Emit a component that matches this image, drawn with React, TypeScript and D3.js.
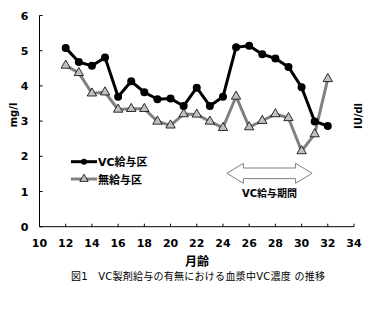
import React from "react";
import * as d3 from "d3";

const months = [12, 13, 14, 15, 16, 17, 18, 19, 20, 21, 22, 23, 24, 25, 26, 27, 28, 29, 30, 31, 32];
const vcValues = [5.08, 4.68, 4.57, 4.81, 3.69, 4.13, 3.82, 3.62, 3.64, 3.43, 3.95, 3.43, 3.69, 5.10, 5.14, 4.90, 4.78, 4.54, 3.96, 2.99, 2.86];
const noVcValues = [4.58, 4.37, 3.79, 3.82, 3.33, 3.35, 3.35, 2.99, 2.88, 3.20, 3.19, 2.99, 2.81, 3.70, 2.83, 3.01, 3.20, 3.09, 2.15, 2.63, 4.20];
const xTicks = [10, 12, 14, 16, 18, 20, 22, 24, 26, 28, 30, 32, 34];
const yTicks = [0, 1, 2, 3, 4, 5, 6];
const seriesNames = ["VC給与区", "無給与区"];
const periodStart = 24.3;
const periodEnd = 30.8;

const FONT = "'DejaVu Sans', 'Noto Sans CJK JP', sans-serif";

export default function App() {
  const x = d3.scaleLinear().domain([10, 34]).range([39.5, 354]);
  const y = d3.scaleLinear().domain([0, 6]).range([226.7, 15.5]);
  const line = d3.line<number>().x((_, i) => x(months[i])).y((v) => y(v));
  const tri = d3.symbol().type(d3.symbolTriangle).size(38)();

  const ax1 = x(periodStart);
  const ax2 = x(periodEnd);
  const ay = 173.3;
  const hw = 16.5;
  const arrowPath = [
    [ax1, ay], [ax1 + hw, ay - 10], [ax1 + hw, ay - 5.3], [ax2 - hw, ay - 5.3], [ax2 - hw, ay - 10],
    [ax2, ay], [ax2 - hw, ay + 10], [ax2 - hw, ay + 5.3], [ax1 + hw, ay + 5.3], [ax1 + hw, ay + 10],
  ];

  return (
    <svg width={372} height={322} style={{ position: "absolute", left: 0, top: 0, background: "#fff" }}>
      {/* axes */}
      <line x1={x(10)} x2={x(34)} y1={y(0)} y2={y(0)} stroke="#000" strokeWidth={1} />
      <line x1={x(10)} x2={x(10)} y1={y(0)} y2={y(6)} stroke="#000" strokeWidth={1} />
      {xTicks.map((t) => (
        <g key={"x" + t}>
          <line x1={x(t)} x2={x(t)} y1={y(0)} y2={y(0) - 3} stroke="#000" />
          <text x={x(t)} y={247} textAnchor="middle" fontFamily={FONT} fontWeight="bold" fontSize={11}>{t}</text>
        </g>
      ))}
      {yTicks.map((t) => (
        <g key={"y" + t}>
          <line x1={x(10)} x2={x(10) + 3} y1={y(t)} y2={y(t)} stroke="#000" />
          <text x={28.5} y={y(t) + 4} textAnchor="end" fontFamily={FONT} fontWeight="bold" fontSize={11}>{t}</text>
        </g>
      ))}
      <text transform="translate(17,115) rotate(-90)" textAnchor="middle" fontFamily={FONT} fontWeight="bold" fontSize={10}>mg/l</text>
      <text transform="translate(362,116) rotate(-90)" textAnchor="middle" fontFamily={FONT} fontWeight="bold" fontSize={10}>IU/dl</text>
      <text x={197} y={266} textAnchor="middle" fontFamily={FONT} fontWeight="bold" fontSize={12}>月齢</text>
      <text x={71} y={280} textLength={254} lengthAdjust="spacing" fontFamily={FONT} fontSize={10}>図1　VC製剤給与の有無における血漿中VC濃度 の推移</text>

      {/* period arrow */}
      <path d={"M" + arrowPath.map((p) => p.join(",")).join("L") + "Z"} fill="#fff" stroke="#808080" strokeWidth={1} />
      <text x={(ax1 + ax2) / 2} y={197} textAnchor="middle" fontFamily={FONT} fontWeight="bold" fontSize={10}>VC給与期間</text>

      {/* series */}
      <path d={line(noVcValues) || ""} fill="none" stroke="#808080" strokeWidth={3} strokeLinejoin="round" />
      {noVcValues.map((v, i) => (
        <path key={"t" + i} d={tri} transform={`translate(${x(months[i])},${y(v)})`} fill="#c0c0c0" stroke="#000" strokeWidth={0.8} />
      ))}
      <path d={line(vcValues) || ""} fill="none" stroke="#000" strokeWidth={3} strokeLinejoin="round" />
      {vcValues.map((v, i) => (
        <circle key={"c" + i} cx={x(months[i])} cy={y(v)} r={4} fill="#000" />
      ))}

      {/* legend */}
      <line x1={71} x2={97} y1={161.7} y2={161.7} stroke="#000" strokeWidth={3} />
      <circle cx={84} cy={161.7} r={3} fill="#000" />
      <text x={98} y={166} fontFamily={FONT} fontWeight="bold" fontSize={11}>{seriesNames[0]}</text>
      <line x1={71} x2={97} y1={179} y2={179} stroke="#808080" strokeWidth={3} />
      <path d={d3.symbol().type(d3.symbolTriangle).size(30)() || ""} transform="translate(84,179)" fill="#c0c0c0" stroke="#000" strokeWidth={0.8} />
      <text x={98} y={183.5} fontFamily={FONT} fontWeight="bold" fontSize={11}>{seriesNames[1]}</text>
    </svg>
  );
}
